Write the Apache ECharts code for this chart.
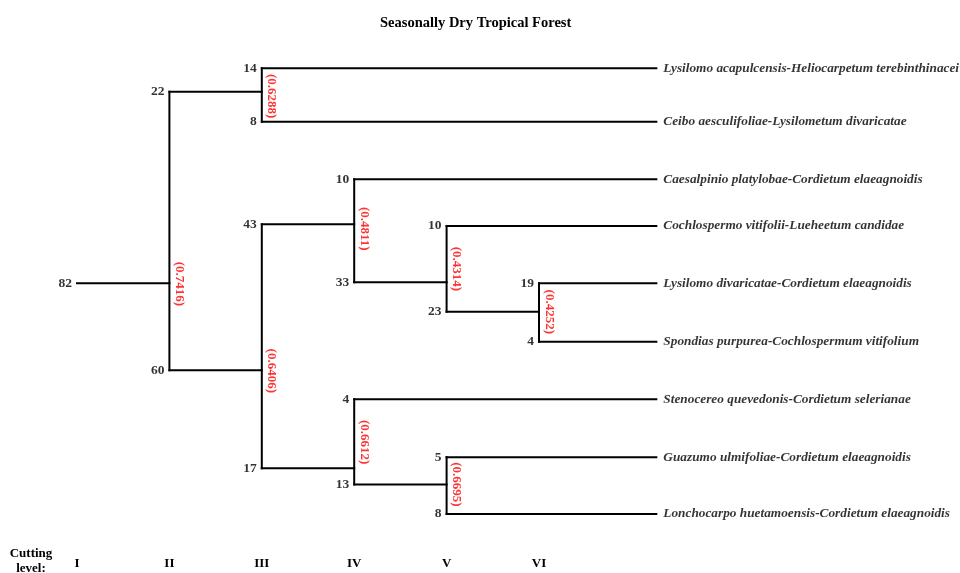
<!DOCTYPE html>
<html>
<head>
<meta charset="utf-8">
<script src="https://cdn.jsdelivr.net/npm/echarts@6/dist/echarts.min.js"></script>
<style>
html,body{margin:0;padding:0;background:#fff;}
#chart{width:960px;height:573px;}
</style>
</head>
<body>
<div id="chart"></div>
<script>
// ---- Data ----
var levelLabels = ['I', 'II', 'III', 'IV', 'V', 'VI'];

// Internal nodes (clusters)
var nodeCounts = [82, 22, 60, 43, 17, 33, 23, 13];
var nodeParent = [-1, 0, 0, 2, 2, 3, 5, 4];
var nodeLevel = [2, 3, 3, 4, 4, 5, 6, 5];          // cutting level where the node splits
var nodeY = [4.86, 1.42, 6.42, 3.80, 8.18, 4.84, 5.37, 8.47];
var nodeSim = ['0.7416', '0.6288', '0.6406', '0.4811', '0.6612', '0.4314', '0.4252', '0.6695'];
var simLabelY = [4.87, 1.50, 6.43, 3.88, 7.71, 4.60, 5.37, 8.47];

// Leaves (plant associations)
var leafNames = [
  'Lysilomo acapulcensis-Heliocarpetum terebinthinacei',
  'Ceibo aesculifoliae-Lysilometum divaricatae',
  'Caesalpinio platylobae-Cordietum elaeagnoidis',
  'Cochlospermo vitifolii-Lueheetum candidae',
  'Lysilomo divaricatae-Cordietum elaeagnoidis',
  'Spondias purpurea-Cochlospermum vitifolium',
  'Stenocereo quevedonis-Cordietum selerianae',
  'Guazumo ulmifoliae-Cordietum elaeagnoidis',
  'Lonchocarpo huetamoensis-Cordietum elaeagnoidis'
];
var leafCounts = [14, 8, 10, 10, 19, 4, 4, 5, 8];
var leafParent = [1, 1, 3, 5, 6, 6, 4, 7, 7];
var leafY = [1, 1.96, 2.99, 3.83, 4.86, 5.91, 6.94, 7.98, 9];
var ROOT_LEVEL = 1;
var LEAF_END = 7.27;

// ---- Build segments ----
var segs = [];
var countPts = [];
var i;
for (i = 0; i < nodeCounts.length; i++) {
  var from = nodeParent[i] < 0 ? ROOT_LEVEL : nodeLevel[nodeParent[i]];
  segs.push([from, nodeY[i], nodeLevel[i], nodeY[i]]);
  countPts.push([from, nodeY[i], nodeCounts[i]]);
}
for (i = 0; i < leafCounts.length; i++) {
  var lf = nodeLevel[leafParent[i]];
  segs.push([lf, leafY[i], LEAF_END, leafY[i]]);
  countPts.push([lf, leafY[i], leafCounts[i]]);
}
// vertical connectors
for (i = 0; i < nodeCounts.length; i++) {
  var ys = [];
  var j;
  for (j = 0; j < nodeCounts.length; j++) if (nodeParent[j] === i) ys.push(nodeY[j]);
  for (j = 0; j < leafCounts.length; j++) if (leafParent[j] === i) ys.push(leafY[j]);
  segs.push([nodeLevel[i], Math.min.apply(null, ys), nodeLevel[i], Math.max.apply(null, ys)]);
}
var simPts = nodeSim.map(function (s, k) { return [nodeLevel[k], simLabelY[k], '(' + s + ')']; });
var leafPts = leafNames.map(function (n, k) { return [LEAF_END, leafY[k], n]; });

var FONT = "'Liberation Serif','Times New Roman',Times,serif";

var chart = echarts.init(document.getElementById('chart'), null, {renderer: 'canvas'});
chart.setOption({
  animation: false,
  backgroundColor: '#fff',
  title: [{
    text: 'Seasonally Dry Tropical Forest',
    left: 380, top: 16, padding: 0,
    textStyle: {fontFamily: FONT, fontSize: 14.5, fontWeight: 'bold', color: '#000'}
  }, {
    text: 'Cutting\nlevel:',
    left: 31, top: 546, textAlign: 'center', padding: 0,
    textStyle: {fontFamily: FONT, fontSize: 13, fontWeight: 'bold', color: '#000', lineHeight: 15, align: 'center'}
  }],
  grid: {left: 77, right: 236.2, top: 68.3, bottom: 59, containLabel: false},
  xAxis: {
    type: 'value', min: 1, max: 8, interval: 1,
    axisLine: {show: false}, axisTick: {show: false}, splitLine: {show: false},
    axisLabel: {
      margin: 43,
      fontFamily: FONT, fontSize: 13, fontWeight: 'bold', color: '#000',
      formatter: function (v) { return levelLabels[v - 1] || ''; }
    }
  },
  yAxis: {
    type: 'value', min: 1, max: 9, inverse: true, show: false
  },
  series: [{
    type: 'custom',
    clip: false,
    data: segs,
    renderItem: function (params, api) {
      var p1 = api.coord([api.value(0), api.value(1)]);
      var p2 = api.coord([api.value(2), api.value(3)]);
      return {
        type: 'line',
        shape: {x1: p1[0], y1: p1[1], x2: p2[0], y2: p2[1]},
        style: {stroke: '#000', lineWidth: 2, lineCap: 'square'}
      };
    }
  }, {
    type: 'scatter', symbolSize: 0, clip: false,
    data: countPts,
    label: {
      show: true, position: 'left', distance: 5,
      formatter: function (p) { return p.value[2]; },
      fontFamily: FONT, fontSize: 13.5, fontWeight: 'bold', color: '#000'
    }
  }, {
    type: 'scatter', symbolSize: 0, clip: false,
    data: leafPts,
    label: {
      show: true, position: 'right', distance: 7,
      formatter: function (p) { return p.value[2]; },
      fontFamily: FONT, fontSize: 13.3, fontWeight: 'bold', fontStyle: 'italic', color: '#000'
    }
  }, {
    type: 'scatter', symbolSize: 0, clip: false,
    data: simPts,
    label: {
      show: true, position: 'inside', rotate: -90, offset: [0, -10],
      align: 'center', verticalAlign: 'middle',
      formatter: function (p) { return p.value[2]; },
      fontFamily: FONT, fontSize: 13, fontWeight: 'bold', color: '#ff0000'
    }
  }]
});
</script>
</body>
</html>
